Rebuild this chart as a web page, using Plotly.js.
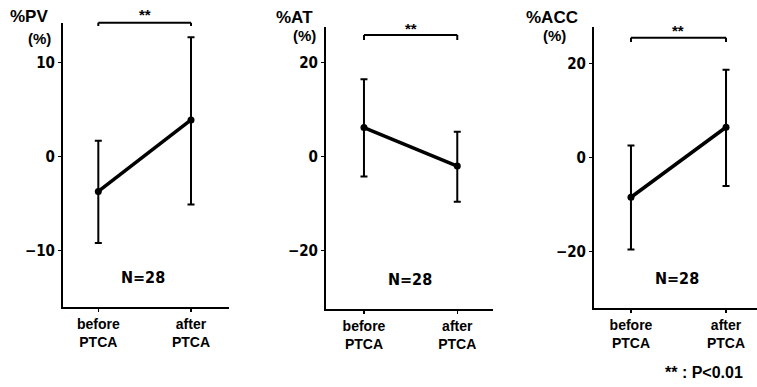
<!DOCTYPE html>
<html>
<head>
<meta charset="utf-8">
<script src="https://cdn.plot.ly/plotly-3.0.1.min.js"></script>
<style>html,body{margin:0;padding:0;background:#fff;}#chart{width:757px;height:387px;}</style>
</head>
<body>
<div id="chart"></div>
<script>
// ---- data ----
const categories = ['before<br>PTCA', 'after<br>PTCA'];
const panelTitles = ['%PV', '%AT', '%ACC'];
const nLabel = 'N=28';
const sigLabel = '**';
const footnote = '** : P&lt;0.01';

const pvMean = [-3.7, 3.9];
const pvErrUp = [5.4, 8.8];
const pvErrDown = [5.5, 9.0];

const atMean = [6.2, -2.0];
const atErrUp = [10.3, 7.3];
const atErrDown = [10.4, 7.6];

const accMean = [-8.5, 6.4];
const accErrUp = [11.0, 12.2];
const accErrDown = [11.1, 12.5];

const pvTicks = [-10, 0, 10];
const atTicks = [-20, 0, 20];
const accTicks = [-20, 0, 20];

// ---- layout helpers ----
const W = 757, H = 387;
const px = v => v / W;
const py = v => 1 - v / H;
const narrow = 'Liberation Sans Narrow, DejaVu Sans Condensed, Liberation Sans, Arial, sans-serif';
const sans = 'Liberation Sans, Arial, sans-serif';
const xIdx = categories.map((c, i) => i);

const panels = [
  {mean: pvMean, up: pvErrUp, dn: pvErrDown, ticks: pvTicks,
   xd: [px(63), px(229)], yd: [py(307), py(23)], xr: [-0.381, 1.41], yr: [-16.0, 14.22],
   brTop: 22.7, brBot: 26, star: 15, title: [8, 16.5], pct: [26, 38.5], n: [143, 277]},
  {mean: atMean, up: atErrUp, dn: atErrDown, ticks: atTicks,
   xd: [px(326), px(493)], yd: [py(309), py(27)], xr: [-0.407, 1.383], yr: [-32.4, 27.6],
   brTop: 35, brBot: 40, star: 28.5, title: [274, 17], pct: [291, 36], n: [410, 279]},
  {mean: accMean, up: accErrUp, dn: accErrDown, ticks: accTicks,
   xd: [px(594), 1], yd: [py(308), py(27)], xr: [-0.389, 1.326], yr: [-32.06, 27.72],
   brTop: 37.7, brBot: 42, star: 30.5, title: [524, 17], pct: [541, 36], n: [677, 278]}
];

const traces = [];
const layout = {
  width: W, height: H,
  margin: {l: 0, r: 0, t: 0, b: 0},
  paper_bgcolor: '#fff', plot_bgcolor: '#fff',
  showlegend: false,
  shapes: [], annotations: []
};

panels.forEach((p, i) => {
  const k = i === 0 ? '' : String(i + 1);
  const xa = 'x' + k, ya = 'y' + k;
  traces.push({
    type: 'scatter', mode: 'lines+markers',
    x: xIdx, y: p.mean, xaxis: xa, yaxis: ya,
    line: {color: '#000', width: 3.5},
    marker: {color: '#000', size: 7},
    error_y: {type: 'data', symmetric: false, array: p.up, arrayminus: p.dn,
              color: '#000', thickness: 2, width: 3.5},
    cliponaxis: false, hoverinfo: 'skip'
  });
  layout['xaxis' + k] = {
    domain: p.xd, range: p.xr, anchor: ya,
    showline: true, linecolor: '#000', linewidth: 2,
    showgrid: false, zeroline: false,
    tickmode: 'array', tickvals: xIdx, ticktext: categories,
    ticks: 'outside', ticklen: 3, tickwidth: 1.5, tickcolor: '#000',
    tickfont: {family: sans, size: 14, color: '#000', weight: 'bold'},
    fixedrange: true
  };
  layout['yaxis' + k] = {
    domain: p.yd, range: p.yr, anchor: xa,
    showline: true, linecolor: '#000', linewidth: 2,
    showgrid: false, zeroline: false,
    tickmode: 'array', tickvals: p.ticks,
    ticks: 'outside', ticklen: 3, tickwidth: 1.5, tickcolor: '#000',
    tickfont: {family: narrow, size: 15, color: '#000', weight: 'bold'},
    fixedrange: true
  };
  // significance bracket between the two categories
  const yt = py(p.brTop), yb = py(p.brBot);
  layout.shapes.push(
    {type: 'line', xref: xa, yref: 'paper', x0: xIdx[0], x1: xIdx[1], y0: yt, y1: yt, line: {color: '#000', width: 2}},
    {type: 'line', xref: xa, yref: 'paper', x0: xIdx[0], x1: xIdx[0], y0: yt, y1: yb, line: {color: '#000', width: 2}},
    {type: 'line', xref: xa, yref: 'paper', x0: xIdx[1], x1: xIdx[1], y0: yt, y1: yb, line: {color: '#000', width: 2}}
  );
  layout.annotations.push(
    {xref: xa, yref: 'paper', x: (xIdx[0] + xIdx[1]) / 2, y: py(p.star), text: sigLabel, showarrow: false,
     font: {family: sans, size: 15, color: '#000', weight: 'bold'}, xanchor: 'center', yanchor: 'middle'},
    {xref: 'paper', yref: 'paper', x: px(p.title[0]), y: py(p.title[1]), text: panelTitles[i], showarrow: false,
     font: {family: sans, size: 17, color: '#000', weight: 'bold'}, xanchor: 'left', yanchor: 'middle'},
    {xref: 'paper', yref: 'paper', x: px(p.pct[0]), y: py(p.pct[1]), text: '(%)', showarrow: false,
     font: {family: sans, size: 15, color: '#000', weight: 'bold'}, xanchor: 'left', yanchor: 'middle'},
    {xref: 'paper', yref: 'paper', x: px(p.n[0]), y: py(p.n[1]), text: nLabel, showarrow: false,
     font: {family: narrow, size: 16, color: '#000', weight: 'bold'}, xanchor: 'center', yanchor: 'middle'}
  );
});

layout.annotations.push({
  xref: 'paper', yref: 'paper', x: px(745), y: py(372), text: footnote, showarrow: false,
  font: {family: sans, size: 16, color: '#000', weight: 'bold'}, xanchor: 'right', yanchor: 'middle'
});

Plotly.newPlot('chart', traces, layout, {displayModeBar: false, staticPlot: true});
</script>
</body>
</html>
